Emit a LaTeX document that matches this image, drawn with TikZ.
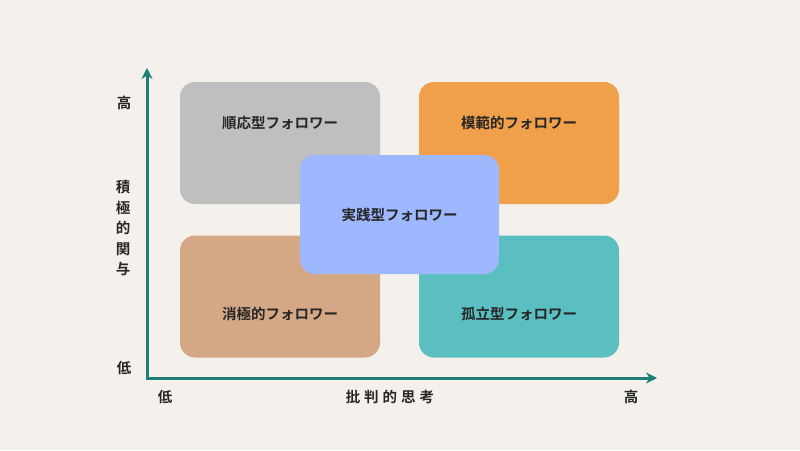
\documentclass[tikz,border=0pt]{standalone}
\usepackage{fontspec}
\newfontfamily\cjk{Noto Sans CJK JP}[BoldFont={* Bold}]
\usetikzlibrary{arrows.meta}
\definecolor{bg}{HTML}{F4F1EC}
\definecolor{axis}{HTML}{1E7F74}
\definecolor{cgray}{HTML}{BFBFBF}
\definecolor{corange}{HTML}{F0A04B}
\definecolor{cblue}{HTML}{9DB8FF}
\definecolor{ctan}{HTML}{D4A885}
\definecolor{cteal}{HTML}{5BBFC2}
\tikzset{
 quad/.style={rounded corners=15pt, minimum width=200pt, minimum height=122pt, inner sep=0pt},
 lab/.style={font=\cjk\bfseries\fontsize{14.5}{16}\selectfont, text=black!85}
}
\tikzset{ax/.style={axis, line width=3pt, -{Stealth[length=11pt,width=11pt]}}}
\begin{document}
\begin{tikzpicture}[x=1pt,y=-1pt]
\fill[bg] (0,0) rectangle (800,450);
\useasboundingbox (0,0) rectangle (800,450);
\node[quad, fill=cgray] (q1) at (280,143) {};
\node[quad, fill=corange] (q2) at (519,143) {};
\node[quad, fill=ctan] (q3) at (280,296.5) {};
\node[quad, fill=cteal] (q4) at (519,296.5) {};
\node[lab] (t1) at (280,123) {順応型フォロワー};
\node[lab] (t2) at (519,123) {模範的フォロワー};
\node[lab] (t3) at (280,314) {消極的フォロワー};
\node[lab] (t4) at (519,314) {孤立型フォロワー};
\node[quad, fill=cblue, minimum width=199pt, minimum height=119pt, lab] (q5) at (399.5,214.5) {実践型フォロワー};
\coordinate (o) at (147,378);
\coordinate (yt) at (147,68);
\coordinate (xt) at (657,378);
\draw[ax] ([yshift=1.5pt]o) -- (yt);
\draw[ax] ([xshift=-1.5pt]o) -- (xt);
\node[lab] (yh) at (124,103) {高};
\node[lab, align=center, font=\cjk\bfseries\fontsize{14.5}{20.5}\selectfont] (yl) at (123,228) {積\\極\\的\\関\\与};
\node[lab] (ylo) at (124,368) {低};
\node[lab] (xlo) at (165,397) {低};
\node[lab] (xl) at (390,397) {批\hspace{4pt}判\hspace{4pt}的\hspace{4pt}思\hspace{4pt}考};
\node[lab] (xh) at (631,397) {高};
\end{tikzpicture}
\end{document}
